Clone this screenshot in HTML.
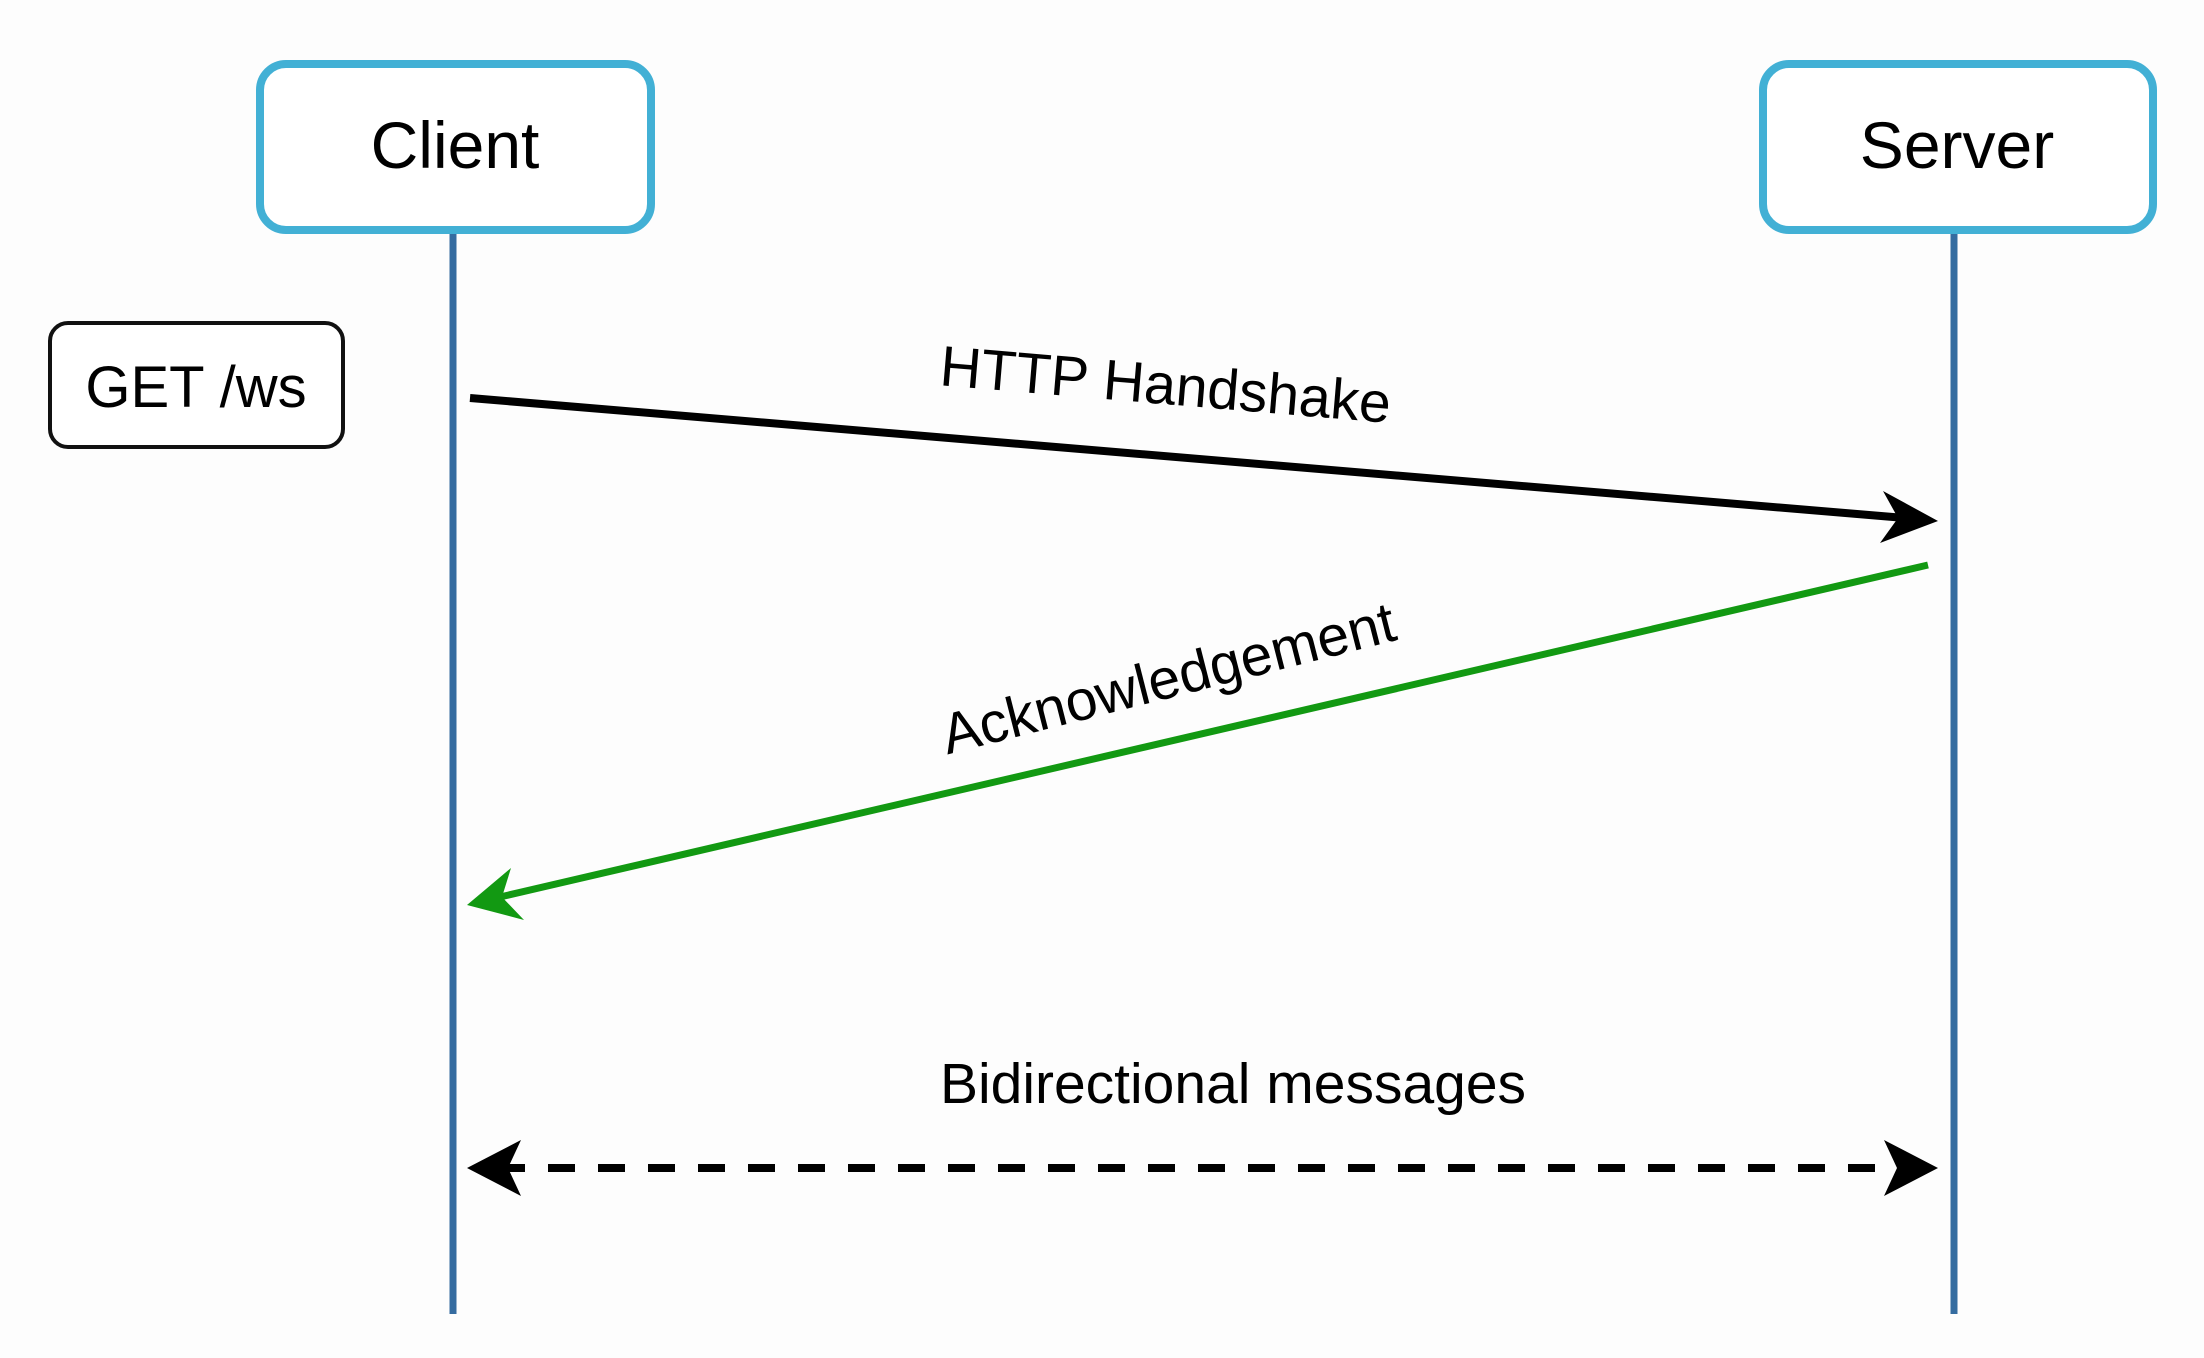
<!DOCTYPE html>
<html><head><meta charset="utf-8"><style>
html,body{margin:0;padding:0;background:#fdfdfd;}
svg{display:block;}
text{font-family:"Liberation Sans",Arial,sans-serif;fill:#000;}
</style></head><body>
<svg width="2204" height="1358" viewBox="0 0 2204 1358" xmlns="http://www.w3.org/2000/svg">
<rect x="0" y="0" width="2204" height="1358" fill="#fdfdfd"/>
<line x1="453" y1="229" x2="453" y2="1314" stroke="#356ca0" stroke-width="7"/>
<line x1="1954" y1="229" x2="1954" y2="1314" stroke="#356ca0" stroke-width="7"/>
<rect x="260" y="64" width="391" height="166" rx="26" fill="#fff" stroke="#42b0d5" stroke-width="8"/>
<rect x="1763" y="64" width="390" height="166" rx="26" fill="#fff" stroke="#42b0d5" stroke-width="8"/>
<text x="455" y="168" font-size="66" text-anchor="middle">Client</text>
<text x="1957" y="168" font-size="66" text-anchor="middle">Server</text>
<rect x="50" y="323" width="293" height="124" rx="18" fill="#fff" stroke="#111" stroke-width="4"/>
<text x="196" y="407" font-size="58" text-anchor="middle">GET /ws</text>
<line x1="470" y1="398" x2="1905" y2="518" stroke="#000" stroke-width="8"/>
<polygon points="1938,521 1883,491 1898,518 1880,543" fill="#000"/>
<text transform="translate(1164,404) rotate(4.8)" font-size="57" text-anchor="middle">HTTP Handshake</text>
<line x1="1928" y1="565" x2="500" y2="897" stroke="#129912" stroke-width="7"/>
<polygon points="467,905 511,868 502,897 524,920" fill="#129912"/>
<text transform="translate(1173,697) rotate(-14.3)" font-size="57" text-anchor="middle">Acknowledgement</text>
<line x1="498" y1="1168" x2="1908" y2="1168" stroke="#000" stroke-width="8" stroke-dasharray="27,23"/>
<polygon points="467,1168 521,1140 508,1168 521,1196" fill="#000"/>
<polygon points="1938,1168 1884,1140 1897,1168 1884,1196" fill="#000"/>
<text x="1233" y="1103" font-size="57" text-anchor="middle">Bidirectional messages</text>
</svg>
</body></html>
